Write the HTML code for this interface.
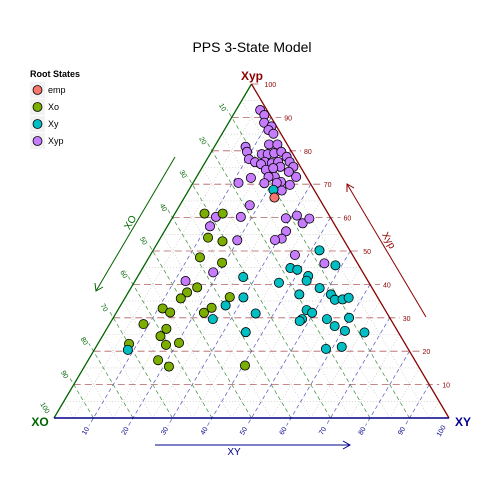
<!DOCTYPE html>
<html><head><meta charset="utf-8"><style>
body{margin:0;background:#fff}
svg{display:block;font-family:"Liberation Sans",sans-serif}
</style></head><body>
<svg id="chart" width="504" height="504" viewBox="0 0 504 504" xmlns="http://www.w3.org/2000/svg">
<text x="252" y="52" text-anchor="middle" font-size="14">PPS 3-State Model</text>
<g id="grid"></g>
<g id="axes"></g>
<g id="pts"></g>
<g>
<text x="30" y="77" font-size="9" font-weight="bold">Root States</text>
<rect x="30" y="82" width="15" height="16" fill="#f2f2f2"/><circle cx="37.5" cy="90" r="4.5" fill="#F8766D" stroke="#000" stroke-width="0.8"/><text x="48" y="93" font-size="9">emp</text>
<rect x="30" y="99" width="15" height="16" fill="#f2f2f2"/><circle cx="37.5" cy="107" r="4.5" fill="#7CAE00" stroke="#000" stroke-width="0.8"/><text x="48" y="110" font-size="9">Xo</text>
<rect x="30" y="116" width="15" height="16" fill="#f2f2f2"/><circle cx="37.5" cy="124" r="4.5" fill="#00BFC4" stroke="#000" stroke-width="0.8"/><text x="48" y="127" font-size="9">Xy</text>
<rect x="30" y="133" width="15" height="16" fill="#f2f2f2"/><circle cx="37.5" cy="141" r="4.5" fill="#C77CFF" stroke="#000" stroke-width="0.8"/><text x="48" y="144" font-size="9">Xyp</text>
</g>
</svg>
<script>
// Xyp % and XY % per point (XO = 100 - Xyp - XY)
const xypXyp=[92.2,90.7,88.4,87.3,86.2,85.1,81.9,81.9,81.2,79.7,79.0,79.0,79.3,79.7,78.2,77.5,76.6,76.7,76.0,76.3,76.7,75.2,76.7,75.2,74.3,74.8,73.7,72.2,72.2,72.2,70.7,70.4,69.8,68.1,70.4,71.9,70.3,63.7,60.2,59.8,60.6,58.3,59.7,55.9,53.7,53.3,53.2,48.8,46.3,60.2,57.4,43.6,41.0];
const xypXY=[6.1,7.9,9.0,11.4,11.2,13.0,13.5,15.6,7.9,9.0,13.1,14.6,16.1,17.7,19.8,10.6,12.6,15.0,14.4,17.0,18.4,19.7,21.3,23.0,16.5,18.1,22.6,25.2,19.8,18.2,22.1,21.2,24.8,23.6,11.5,13.9,18.1,17.7,17.2,28.8,31.2,33.8,34.8,30.8,30.8,29.3,19.8,36.6,45.3,10.9,10.8,18.5,12.8];
const xoXyp=[61.2,61.2,54.0,52.9,48.1,46.5,39.1,37.6,35.8,36.2,32.8,31.6,33.0,31.5,28.1,26.7,24.5,21.9,22.5,22.2,17.3,15.4,15.7];
const xoXY=[7.5,12.1,12.0,16.2,12.9,19.3,16.7,14.9,14.2,26.4,11.1,13.6,23.4,22.2,8.6,15.1,14.7,17.4,20.4,7.9,17.7,21.4,40.5];
const xyXyp=[68.3,42.2,36.1,33.7,31.3,29.6,25.7,20.4,50.2,45.7,44.9,44.4,42.5,41.1,40.5,38.9,37.0,37.0,35.4,35.5,36.0,32.3,31.5,29.6,29.0,29.6,30.0,27.5,26.1,25.6,20.7,21.3];
const xyXY=[21.4,26.8,29.9,26.6,35.4,25.4,35.7,8.5,42.1,48.4,37.4,39.4,43.1,43.4,36.7,47.8,43.6,51.6,53.4,55.3,56.6,47.8,49.6,48.0,47.7,54.3,59.7,57.3,60.6,65.8,58.5,62.2];
const empXyp=[66.0];
const empXY=[22.8];
const ticks=[10,20,30,40,50,60,70,80,90,100];

const NS='http://www.w3.org/2000/svg';
const X0=54,X1=449,Y0=418,H=334,W=X1-X0;
function px(xy,xyp){return X0+W*(xy/100+xyp/200);}
function py(xyp){return Y0-H*xyp/100;}
function el(tag,attrs,parent){const e=document.createElementNS(NS,tag);for(const k in attrs)e.setAttribute(k,attrs[k]);parent.appendChild(e);return e;}
const grid=document.getElementById('grid'),axes=document.getElementById('axes'),pts=document.getElementById('pts');

// minor dotted grid
for(let v=5;v<100;v+=10){
  let l;
  l=el('line',{x1:px(0,v),y1:py(v),x2:px(100-v,v),y2:py(v),stroke:'#bbb','stroke-width':0.6,'stroke-dasharray':'1,2'},grid);
  
  l=el('line',{x1:px(0,100-v),y1:py(100-v),x2:px(100-v,0),y2:py(0),stroke:'#bbb','stroke-width':0.6,'stroke-dasharray':'1,2'},grid);
  
  l=el('line',{x1:px(v,0),y1:py(0),x2:px(v,100-v),y2:py(100-v),stroke:'#bbb','stroke-width':0.6,'stroke-dasharray':'1,2'},grid);
  
}
// major grids + ticks + labels
ticks.forEach(t=>{
  let l,tx;
  // Xyp horizontal
  const xr=px(100-t,t),y=py(t);
  l=el('line',{x1:px(0,t),y1:y,x2:xr+10,y2:y,stroke:'#b06060','stroke-width':0.8,'stroke-dasharray':'7,4'},grid);
  
  tx=el('text',{x:xr+13,y:y+3,'font-size':7,fill:'#8B0000'},axes);tx.textContent=t;
  
  // XO lines: from (XY=100-t, Xyp=0) to (XY=0, Xyp=100-t)
  if(t<100){
    const ax=px(100-t,0),ay=py(0),bx=px(0,100-t),by=py(100-t);
    const dx=bx-ax,dy=by-ay,L=Math.hypot(dx,dy);
    l=el('line',{x1:ax,y1:ay,x2:bx+dx/L*9,y2:by+dy/L*9,stroke:'#3a8a3a','stroke-width':0.7,'stroke-dasharray':'4,3'},grid);
    
    // XY lines: from (XY=t,Xyp=0) to (XY=t, Xyp=100-t)
    const cx=px(t,100-t),cy=py(100-t),ex=px(t,0),ey=py(0);
    const d2x=ex-cx,d2y=ey-cy,L2=Math.hypot(d2x,d2y);
    l=el('line',{x1:cx,y1:cy,x2:ex+d2x/L2*9,y2:ey+d2y/L2*9,stroke:'#5555bb','stroke-width':0.7,'stroke-dasharray':'4,3'},grid);
    
  }
  // XO label at left edge where XO=t => Xyp=100-t
  const lx=px(0,100-t)-11,ly=py(100-t)-9;
  tx=el('text',{x:lx,y:ly,'font-size':7,fill:'#006400','text-anchor':'middle',transform:`rotate(60 ${lx} ${ly})`},axes);tx.textContent=t;
  
  // XY label at bottom
  const bx2=px(t,0)-6,by2=py(0)+14;
  tx=el('text',{x:bx2,y:by2,'font-size':7,fill:'#00008B','text-anchor':'middle',transform:`rotate(-60 ${bx2} ${by2})`},axes);tx.textContent=t;
  
});
// triangle sides
let s;
s=el('line',{x1:X0,y1:Y0,x2:px(0,100),y2:py(100),stroke:'#006400','stroke-width':1.3},axes);
s=el('line',{x1:px(0,100),y1:py(100),x2:X1,y2:Y0,stroke:'#8B0000','stroke-width':1.3},axes);
s=el('line',{x1:X0,y1:Y0,x2:X1,y2:Y0,stroke:'#00008B','stroke-width':1.5},axes);
// points
function draw(xyp,xy,fill,name){xyp.forEach((v,i)=>{const c=el('circle',{cx:px(xy[i],v),cy:py(v),r:4.6,fill:fill,stroke:'#000','stroke-width':0.8},pts);

});}
draw(xypXyp,xypXY,'#C77CFF','point-xyp');
draw(xoXyp,xoXY,'#7CAE00','point-xo');
draw(xyXyp,xyXY,'#00BFC4','point-xy');
draw(empXyp,empXY,'#F8766D','point-emp');
</script>
<svg width="504" height="504" style="position:absolute;left:0;top:0" xmlns="http://www.w3.org/2000/svg">
<text x="252" y="80" text-anchor="middle" font-size="12" font-weight="bold" fill="#8B0000">Xyp</text>
<text x="40" y="426" text-anchor="middle" font-size="12" font-weight="bold" fill="#006400">XO</text>
<text x="463" y="426" text-anchor="middle" font-size="12" font-weight="bold" fill="#00008B">XY</text>
<line x1="175" y1="157" x2="96" y2="291" stroke="#006400" stroke-width="1"/>
<polyline points="95,283 96,291 103,287" fill="none" stroke="#006400" stroke-width="1"/>
<text x="133" y="224" font-size="10" fill="#006400" text-anchor="middle" transform="rotate(-60 133 224)">XO</text>
<line x1="155" y1="445" x2="350" y2="445" stroke="#00008B" stroke-width="1"/>
<polyline points="343,441 350,445 343,449" fill="none" stroke="#00008B" stroke-width="1"/>
<text x="234" y="455" font-size="10" fill="#00008B" text-anchor="middle">XY</text>
<line x1="347" y1="184" x2="426" y2="317" stroke="#8B0000" stroke-width="1"/>
<polyline points="347,192 347,184 354,188" fill="none" stroke="#8B0000" stroke-width="1"/>
<text x="386" y="242" font-size="10" fill="#8B0000" text-anchor="middle" transform="rotate(60 386 242)">Xyp</text>
</svg>
</body></html>
